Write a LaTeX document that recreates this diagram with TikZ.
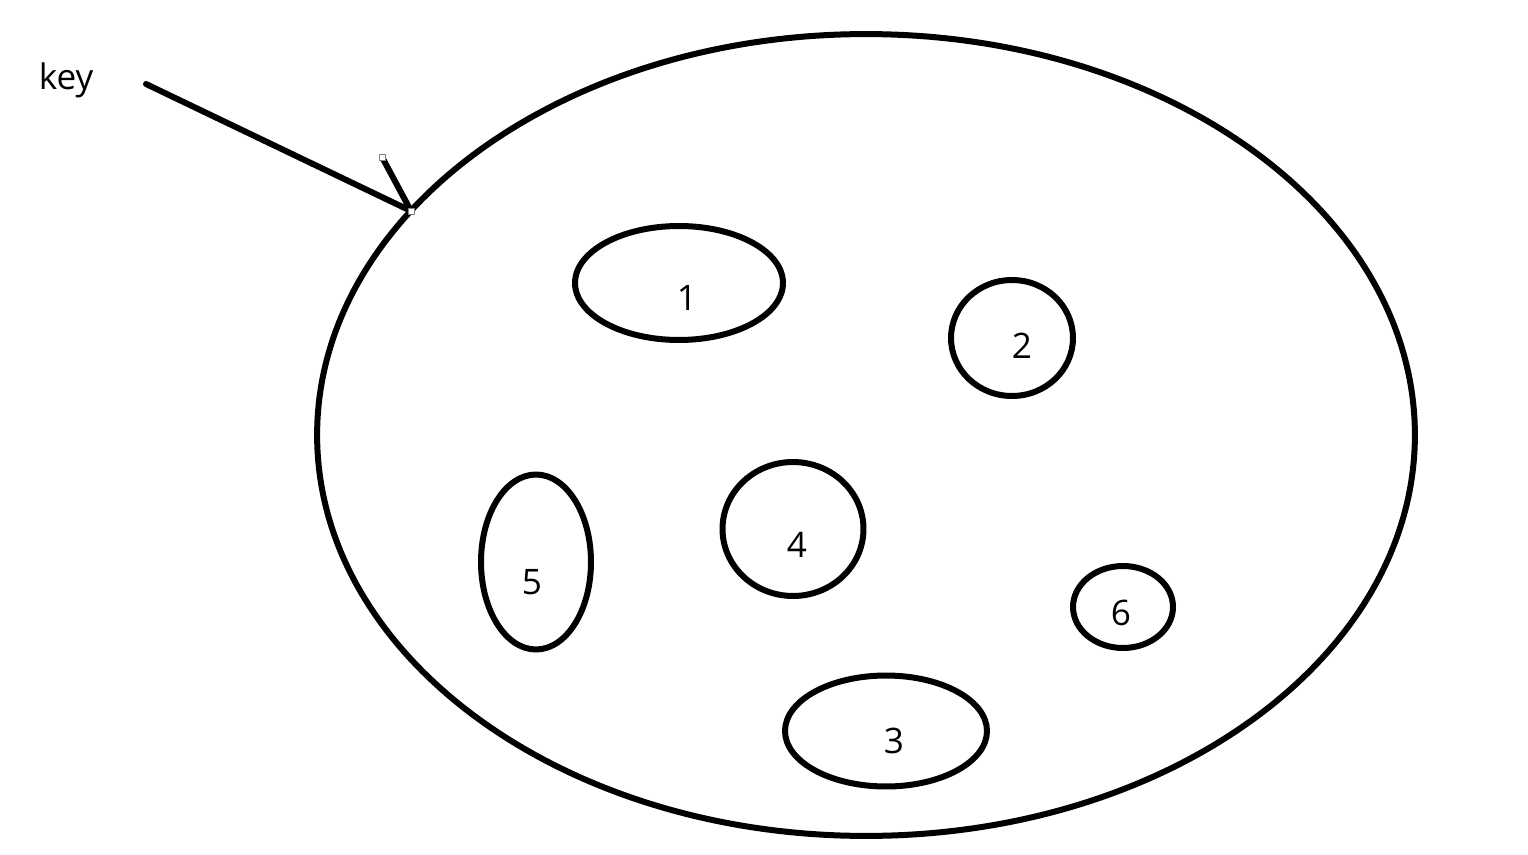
\documentclass[tikz,border=0pt]{standalone}
\usepackage{fontspec}
\setmainfont{Open Sans}
\usetikzlibrary{shapes.geometric}

\begin{document}
\begin{tikzpicture}[
    x=0.02cm, y=-0.02cm,
    blob/.style={ellipse, draw, line width=0.12cm, inner sep=0pt, anchor=center},
    num/.style={font=\fontsize{20}{24}\selectfont, inner sep=0pt, anchor=center},
    handle/.style={draw=gray, fill=white, line width=0.4pt, minimum size=0.12cm, inner sep=0pt}
  ]
\useasboundingbox (0,0) rectangle (1528,855);

% Outer set
\node[blob, minimum width=21.96cm, minimum height=16.04cm] (set) at (866,435) {};

% Inner sets
\node[blob, minimum width=4.16cm, minimum height=2.28cm] (e1) at (679,283) {};
\node[blob, minimum width=2.44cm, minimum height=2.32cm] (e2) at (1012,338) {};
\node[blob, minimum width=4.04cm, minimum height=2.22cm] (e3) at (886,731) {};
\node[blob, minimum width=2.82cm, minimum height=2.68cm] (e4) at (793,529) {};
\node[blob, minimum width=2.20cm, minimum height=3.50cm] (e5) at (536,562) {};
\node[blob, minimum width=2.00cm, minimum height=1.64cm] (e6) at (1123,607) {};

% Labels
\node[num] (l1) at (687,298) {1};
\node[num] (l2) at (1022,346) {2};
\node[num] (l3) at (894,741) {3};
\node[num] (l4) at (797,545) {4};
\node[num] (l5) at (532,582) {5};
\node[num] (l6) at (1121,613) {6};
\node[num] (key) at (66,80) {key};

% Arrow
\coordinate (tail) at (146,84);
\coordinate (head) at (411,211);
\coordinate (barb) at (382,157);
\draw[line width=0.12cm, line cap=round] (tail) -- (head);
\draw[line width=0.12cm, line cap=round] (barb) -- (head);
\node[handle] (hb) at (barb) {};
\node[handle] (hh) at (head) {};

\end{tikzpicture}
\end{document}
